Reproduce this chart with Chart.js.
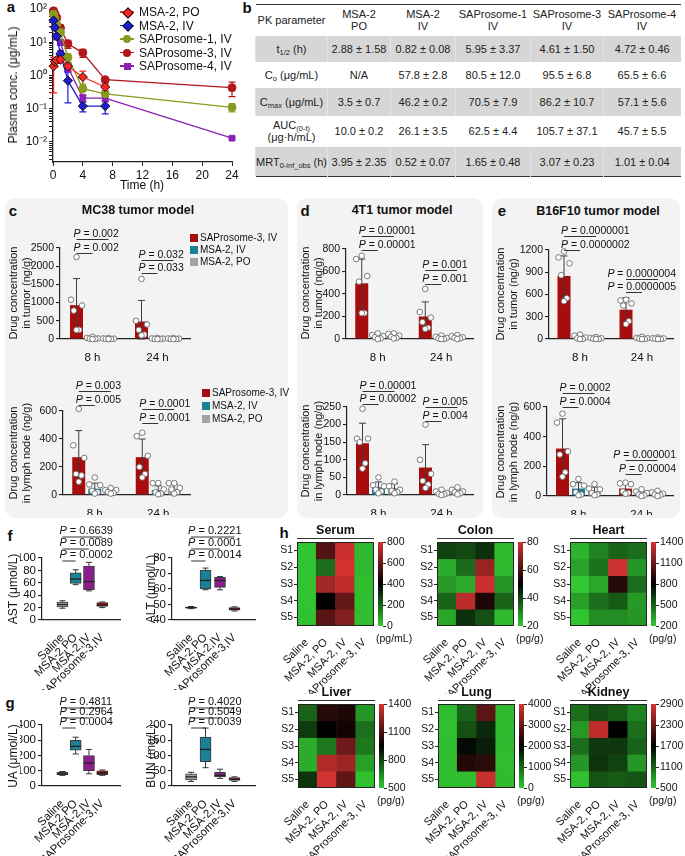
<!DOCTYPE html>
<html>
<head>
<meta charset="utf-8">
<title>SAProsome PK and biodistribution</title>
<script src="https://cdn.jsdelivr.net/npm/chart.js@4.4.1/dist/chart.umd.min.js"></script>
<style>
  html, body { margin: 0; padding: 0; background: #fff; }
  body { position: relative; width: 685px; height: 856px; overflow: hidden;
         font-family: 'Liberation Sans', Arial, Helvetica, sans-serif; color: #111; }
  .t { position: absolute; white-space: nowrap; line-height: 1; }
  canvas { position: absolute; }
  table.pk { position: absolute; left: 255px; top: 4px; width: 425px; border-collapse: collapse;
             table-layout: fixed; font-size: 11px; color: #222;
             border-top: 1.5px solid #333; border-bottom: 1.5px solid #333; }
  table.pk td { text-align: center; padding: 0; line-height: 12px; }
  table.pk tr.g td { background: #d6d6d6; border-left: 1px solid #e4e4e4; }
  table.pk tr.auc td { border-bottom: 1px solid #cfcfcf; }
  table.pk sub { font-size: 7.5px; line-height: 0; vertical-align: -2px; }
</style>
</head>
<body>

<table class="pk">
  <colgroup><col style="width:72px"><col style="width:63px"><col style="width:65px"><col style="width:75px"><col style="width:73px"><col style="width:77px"></colgroup>
  <tr style="height:31px"><td>PK parameter</td><td>MSA-2<br>PO</td><td>MSA-2<br>IV</td><td>SAProsome-1<br>IV</td><td>SAProsome-3<br>IV</td><td>SAProsome-4<br>IV</td></tr>
  <tr class="g" style="height:26px"><td>t<sub>1/2</sub> (h)</td><td>2.88 ± 1.58</td><td>0.82 ± 0.08</td><td>5.95 ± 3.37</td><td>4.61 ± 1.50</td><td>4.72 ± 0.46</td></tr>
  <tr style="height:26px"><td>C<sub>o</sub> (μg/mL)</td><td>N/A</td><td>57.8 ± 2.8</td><td>80.5 ± 12.0</td><td>95.5 ± 6.8</td><td>65.5 ± 6.6</td></tr>
  <tr class="g" style="height:28px"><td>C<sub>max</sub> (μg/mL)</td><td>3.5 ± 0.7</td><td>46.2 ± 0.2</td><td>70.5 ± 7.9</td><td>86.2 ± 10.7</td><td>57.1 ± 5.6</td></tr>
  <tr class="auc" style="height:32px"><td>AUC<sub>(0-t)</sub><br>(μg·h/mL)</td><td>10.0 ± 0.2</td><td>26.1 ± 3.5</td><td>62.5 ± 4.4</td><td>105.7 ± 37.1</td><td>45.7 ± 5.5</td></tr>
  <tr class="g" style="height:29px"><td>MRT<sub>0-inf_obs</sub> (h)</td><td>3.95 ± 2.35</td><td>0.52 ± 0.07</td><td>1.65 ± 0.48</td><td>3.07 ± 0.23</td><td>1.01 ± 0.04</td></tr>
</table>

<script>
// ---------- panel a : plasma concentration ----------
const pkTimes = [0.083, 0.25, 0.5, 1, 2, 4, 7, 24];
const pkSeries = ['MSA-2, PO', 'MSA-2, IV', 'SAProsome-1, IV', 'SAProsome-3, IV', 'SAProsome-4, IV'];
const msa2PoMean = [1.9, 2.6, 2.9, 3.0, 1.9, 0.9, 0.45, null];
const msa2PoSd   = [1.6, 0.8, 0.6, 0.5, 0.5, 0.45, 0.1, null];
const msa2IvMean = [45, 28, 15, 4.5, 0.7, 0.12, 0.12, null];
const msa2IvSd   = [5, 5, 3, 1, 0.55, 0.04, 0.05, null];
const sap1Mean   = [70, 52, 35, 20, 3.5, 0.4, 0.28, 0.11];
const sap1Sd     = [10, 8, 6, 4, 1, 0.15, 0.05, 0.03];
const sap3Mean   = [88, 72, 55, 27, 9, 4.8, 0.75, 0.43];
const sap3Sd     = [15, 10, 8, 6, 2.5, 1.3, 0.12, 0.2];
const sap4Mean   = [50, 30, 15, 10, 1.8, 0.21, 0.21, 0.013];
const sap4Sd     = [8, 5, 3, 2, 0.5, 0.05, 0.05, 0.001];

// ---------- panels c-e : drug in tumor / lymph node ----------
const timeCats = ['8 h', '24 h'];
const grpNames = ['SAProsome-3, IV', 'MSA-2, IV', 'MSA-2, PO'];
// order of groups: SAProsome-3 IV, MSA-2 IV, MSA-2 PO ; each [8 h, 24 h]
const mc38TumorMean = [[930, 480], [20, 10], [10, 8]];
const mc38TumorSd   = [[730, 580], [20, 10], [8, 8]];
const mc38TumorPts  = [[[2250, 1080, 920, 780, 250, 250], [1650, 500, 400, 250, 120, 100]],
                       [[60, 30, 15, 10, 5, 0], [30, 15, 10, 5, 0, 0]],
                       [[25, 15, 10, 5, 0, 0], [25, 15, 10, 5, 0, 0]]];
const mc38LymphMean = [[270, 270], [45, 35], [25, 45]];
const mc38LymphSd   = [[190, 130], [40, 30], [15, 30]];
const mc38LymphPts  = [[[615, 355, 265, 150, 140, 95], [445, 420, 280, 200, 150, 125]],
                       [[125, 75, 70, 30, 20, 10], [85, 85, 40, 20, 10, 5]],
                       [[50, 35, 35, 20, 15, 10], [85, 85, 50, 40, 20, 10]]];
const t4t1TumorMean = [[495, 200], [20, 12], [28, 15]];
const t4t1TumorSd   = [[215, 130], [15, 10], [18, 12]];
const t4t1TumorPts  = [[[740, 710, 560, 510, 230, 230], [445, 240, 190, 150, 100, 90]],
                       [[50, 35, 25, 15, 5, 0], [30, 20, 10, 5, 0, 0]],
                       [[50, 45, 30, 20, 10, 5], [35, 25, 15, 10, 5, 0]]];
const t4t1LymphMean = [[147, 78], [22, 6], [20, 10]];
const t4t1LymphSd   = [[57, 65], [15, 5], [12, 7]];
const t4t1LymphPts  = [[[245, 160, 160, 150, 90, 75], [200, 100, 60, 40, 30, 20]],
                       [[50, 28, 25, 15, 10, 5], [15, 10, 5, 3, 2, 0]],
                       [[38, 25, 15, 12, 8, 5], [22, 15, 10, 8, 5, 2]]];
const b16TumorMean = [[850, 395], [20, 10], [10, 8]];
const b16TumorSd   = [[270, 160], [20, 8], [8, 6]];
const b16TumorPts  = [[[1180, 1100, 1020, 860, 550, 510], [530, 520, 480, 450, 240, 200]],
                      [[60, 45, 20, 10, 0, 0], [30, 15, 10, 5, 0, 0]],
                      [[25, 15, 10, 5, 0, 0], [20, 10, 8, 5, 0, 0]]];
const b16LymphMean = [[320, 50], [50, 18], [35, 15]];
const b16LymphSd   = [[200, 30], [40, 15], [25, 12]];
const b16LymphPts  = [[[555, 495, 300, 280, 160, 130], [90, 85, 80, 30, 20, 15]],
                      [[115, 80, 70, 25, 10, 5], [45, 30, 20, 10, 5, 0]],
                      [[80, 50, 45, 20, 10, 5], [35, 25, 15, 10, 5, 0]]];

// ---------- panels f, g : serum biochemistry (box plots) ----------
const bioCats = ['Saline', 'MSA-2,PO', 'MSA-2,IV', 'SAProsome-3,IV'];
const astMin = [19, 57, 47, 20], astQ1 = [21, 59, 49, 22], astMed = [25, 66, 62, 24], astQ3 = [29, 76, 87, 28], astMax = [31, 81, 93, 29];
const altMin = [47.3, 59.5, 59.5, 45.8], altQ1 = [47.6, 60, 61, 46.3], altMed = [48, 65.5, 65.5, 47], altQ3 = [48.4, 72, 67.5, 48], altMax = [48.7, 73.5, 68, 48.5];
const uaMin = [70, 210, 80, 70], uaQ1 = [75, 235, 100, 75], uaMed = [80, 260, 150, 85], uaQ3 = [90, 300, 200, 100], uaMax = [95, 320, 240, 105];
const bunMin = [15, 60, 25, 15], bunQ1 = [20, 80, 30, 18], bunMed = [30, 120, 35, 22], bunQ3 = [40, 160, 45, 28], bunMax = [45, 190, 55, 30];

// ---------- panel h : cytokine heat maps (rows S1..S5, cols as heatCols) ----------
const heatCols = ['Saline', 'MSA-2, PO', 'MSA-2, IV', 'SAProsome-3, IV'];
const heatRows = ['S1', 'S2', 'S3', 'S4', 'S5'];
const serumVals  = [[5, 550, 775, 30], [10, 180, 800, 30], [10, 700, 755, 25], [10, 400, 585, 20], [15, 560, 640, 20]];
const colonVals  = [[40, 39, 43, 22], [24, 34, 71, 22], [27, 24, 78, 28], [35, 76, 54, 35], [25, 43, 38, 22]];
const heartVals  = [[260, 410, 500, 470], [310, 460, 1370, 350], [200, 300, 910, 470], [320, 470, 530, 340], [210, 380, 380, 350]];
const liverVals  = [[725, 1030, 1010, 610], [815, 950, 990, 700], [560, 680, 1180, 680], [560, 1320, 1280, 590], [830, 1390, 1150, 515]];
const lungVals   = [[100, 1000, 2850, 150], [80, 1200, 1600, 150], [100, 1900, 1700, 150], [100, 2330, 2400, 120], [100, 100, 3850, 140]];
const kidneyVals = [[1040, 1250, 1160, 920], [790, 2760, 1700, 1040], [1040, 1370, 1370, 1110], [800, 1400, 1310, 800], [550, 1200, 1160, 1200]];
const serumTicks = [0, 200, 400, 600, 800];
const colonTicks = [20, 40, 60, 80];
const heartTicks = [200, 500, 800, 1100, 1400];
const liverTicks = [500, 800, 1100, 1400];
const lungTicks  = [0, 1000, 2000, 3000, 4000];
const kidneyTicks = [500, 1100, 1700, 2300, 2900];

// ================= drawing =================
const FF = "'Liberation Sans', Arial, Helvetica, sans-serif";
Chart.defaults.font.family = FF;
Chart.defaults.color = '#111';
Chart.defaults.animation = false;
Chart.defaults.events = [];
Chart.defaults.plugins.legend.display = false;
Chart.defaults.plugins.tooltip.enabled = false;

const AX = '#222';
const RED = '#a80d0d', TEAL = '#1b8196', GREY = '#a3a3a3', PURP = '#8c1d8c';
const grpColors = [RED, TEAL, GREY];
const EXTRA = {};
const plain = v => String(v);

function txt(html, x, y, css, anchor) {
  const d = document.createElement('div');
  d.className = 't';
  d.innerHTML = html;
  d.style.left = x + 'px';
  d.style.top = y + 'px';
  if (css) d.style.cssText += css;
  d.style.transform = anchor === 'c' ? 'translate(-50%,-50%)' : anchor === 'r' ? 'translate(-100%,-50%)' : 'translate(0,-50%)';
  document.body.appendChild(d);
  return d;
}
function vtxt(html, x, y, css) {
  const d = txt(html, x, y, css + ';text-align:center', 'c');
  d.style.transform = 'translate(-50%,-50%) rotate(-90deg)';
  return d;
}
function rect(x, y, w, h, css) {
  const d = document.createElement('div');
  d.style.cssText = `position:absolute;left:${x}px;top:${y}px;width:${w}px;height:${h}px;` + css;
  document.body.appendChild(d);
  return d;
}

// place a chart so that its chart area lands on the given page rectangle
function mk(id, box, area, cfg, yRight) {
  const cv = document.createElement('canvas');
  cv.id = id; cv.width = box.w; cv.height = box.h;
  cv.style.left = box.l + 'px'; cv.style.top = box.t + 'px';
  cv.style.width = box.w + 'px'; cv.style.height = box.h + 'px';
  document.body.appendChild(cv);
  const o = cfg.options;
  o.responsive = false; o.maintainAspectRatio = false; o.devicePixelRatio = 1;
  const xHidden = o.scales.x.display === false;
  const bottomGap = box.t + box.h - area.b;
  o.layout = { padding: {
    left: yRight ? area.l - box.l : 0,
    right: yRight ? 0 : box.l + box.w - area.r,
    top: area.t - box.t,
    bottom: xHidden ? bottomGap : 0 } };
  const yW = yRight ? box.l + box.w - area.r : area.l - box.l;
  o.scales.y.afterFit = s => { s.width = yW; s.paddingTop = 0; s.paddingBottom = 0; };
  if (!xHidden) o.scales.x.afterFit = s => { s.height = bottomGap; s.paddingLeft = 0; s.paddingRight = 0; };
  if (EXTRA[id]) EXTRA[id].top = box.t;
  return new Chart(cv, cfg);
}

function axisY(min, max, step, size) {
  return { min, max, ticks: { stepSize: step, font: { size }, color: '#111', padding: 2, callback: plain, autoSkip: false },
    grid: { drawOnChartArea: false, tickLength: 4, color: AX, lineWidth: 1.1 },
    border: { color: AX, width: 1.2 } };
}

function drawP(ctx, text, x0, xEnd, y, size, mode, maxRight) {
  ctx.font = `italic ${size}px ${FF}`;
  const wP = ctx.measureText('P').width;
  ctx.font = `${size}px ${FF}`;
  const rest = ' = ' + text;
  const w = wP + ctx.measureText(rest).width;
  let tx = mode === 'box' ? Math.max(x0 - 3, xEnd - w) : x0 - 3;
  if (tx + w > maxRight) tx = maxRight - w;
  ctx.fillStyle = '#111';
  ctx.textBaseline = 'middle';
  ctx.textAlign = 'left';
  ctx.font = `italic ${size}px ${FF}`;
  ctx.fillText('P', tx, y);
  ctx.font = `${size}px ${FF}`;
  ctx.fillText(rest, tx + wP, y);
}

const extrasPlugin = {
  id: 'extras',
  beforeDatasetsDraw(chart) {
    const ex = EXTRA[chart.canvas.id];
    if (!ex) return;
    const ctx = chart.ctx, a = chart.chartArea;
    if (ex.kind === 'cbar') {
      const g = ctx.createLinearGradient(0, a.bottom, 0, a.top);
      g.addColorStop(0, 'rgb(50,200,50)'); g.addColorStop(0.5, '#000'); g.addColorStop(1, 'rgb(215,50,50)');
      ctx.fillStyle = g;
      ctx.fillRect(a.left, a.top, a.right - a.left, a.bottom - a.top);
    }
    if (ex.kind === 'pk') {
      const ys = chart.scales.y;
      ctx.save();
      chart.data.datasets.forEach((ds, k) => {
        const meta = chart.getDatasetMeta(k);
        ctx.strokeStyle = ds.borderColor; ctx.lineWidth = 1.2;
        ds.data.forEach((p, i) => {
          const sd = ex.sd[k][i];
          if (sd == null) return;
          const el = meta.data[i];
          const t = ys.getPixelForValue(p.y + sd);
          const lo = p.y - sd;
          const b = lo > 0 ? Math.min(ys.getPixelForValue(lo), a.bottom) : a.bottom;
          ctx.beginPath();
          ctx.moveTo(el.x, t); ctx.lineTo(el.x, b);
          ctx.moveTo(el.x - 3.5, t); ctx.lineTo(el.x + 3.5, t);
          ctx.moveTo(el.x - 3.5, b); ctx.lineTo(el.x + 3.5, b);
          ctx.stroke();
        });
      });
      ctx.restore();
    }
  },
  afterDatasetsDraw(chart) {
    const ex = EXTRA[chart.canvas.id];
    if (!ex) return;
    const ctx = chart.ctx, a = chart.chartArea, ys = chart.scales.y;
    ctx.save();
    if (ex.kind === 'bars') {
      ex.sd.forEach((sds, di) => {
        const meta = chart.getDatasetMeta(di);
        sds.forEach((sd, i) => {
          const el = meta.data[i], m = chart.data.datasets[di].data[i];
          const t = ys.getPixelForValue(m + sd), b = ys.getPixelForValue(Math.max(m - sd, 0));
          ctx.strokeStyle = '#3c3c3c'; ctx.lineWidth = 1;
          ctx.beginPath();
          ctx.moveTo(el.x, t); ctx.lineTo(el.x, b);
          ctx.moveTo(el.x - 3.5, t); ctx.lineTo(el.x + 3.5, t);
          ctx.moveTo(el.x - 3.5, b); ctx.lineTo(el.x + 3.5, b);
          ctx.stroke();
        });
      });
      const jit = [0, -5.5, 5.5, -2.75, 2.75, 0];
      ex.pts.forEach((groups, di) => {
        const meta = chart.getDatasetMeta(di);
        groups.forEach((vals, i) => {
          const el = meta.data[i];
          vals.forEach((v, k) => {
            ctx.beginPath();
            ctx.arc(el.x + jit[k % jit.length], ys.getPixelForValue(v), 2.8, 0, Math.PI * 2);
            ctx.fillStyle = '#fff'; ctx.fill();
            ctx.strokeStyle = '#6a6a6a'; ctx.lineWidth = 0.9; ctx.stroke();
          });
        });
      });
      ex.pv.forEach(p => {
        const e0 = chart.getDatasetMeta(0).data[p.cat], e1 = chart.getDatasetMeta(p.b).data[p.cat];
        const y = p.y - ex.top;
        ctx.strokeStyle = '#333'; ctx.lineWidth = 1;
        ctx.beginPath(); ctx.moveTo(e0.x, y + 5.5); ctx.lineTo(e1.x, y + 5.5); ctx.stroke();
        drawP(ctx, p.text, e0.x, e1.x, y, 10.5, 'bar', chart.width - 2);
      });
    }
    if (ex.kind === 'box') {
      const meta = chart.getDatasetMeta(0);
      meta.data.forEach((el, i) => {
        const h = el.width / 2;
        const pMin = ys.getPixelForValue(ex.min[i]), pQ1 = ys.getPixelForValue(ex.q1[i]);
        const pMed = ys.getPixelForValue(ex.med[i]), pQ3 = ys.getPixelForValue(ex.q3[i]);
        const pMax = ys.getPixelForValue(ex.max[i]);
        ctx.strokeStyle = '#333'; ctx.lineWidth = 1;
        ctx.beginPath();
        ctx.moveTo(el.x, pQ3); ctx.lineTo(el.x, pMax);
        ctx.moveTo(el.x - h * 0.55, pMax); ctx.lineTo(el.x + h * 0.55, pMax);
        ctx.moveTo(el.x, pQ1); ctx.lineTo(el.x, pMin);
        ctx.moveTo(el.x - h * 0.55, pMin); ctx.lineTo(el.x + h * 0.55, pMin);
        ctx.stroke();
        ctx.lineWidth = 1.3; ctx.strokeStyle = '#222';
        ctx.beginPath(); ctx.moveTo(el.x - h, pMed); ctx.lineTo(el.x + h, pMed); ctx.stroke();
      });
      ex.pv.forEach(p => {
        const e0 = meta.data[0], e1 = meta.data[p.b];
        const y = p.y - ex.top;
        ctx.strokeStyle = '#333'; ctx.lineWidth = 1;
        ctx.beginPath(); ctx.moveTo(e0.x, y + 6); ctx.lineTo(e1.x, y + 6); ctx.stroke();
        drawP(ctx, p.text, e0.x, e1.x, y, 11, 'box', chart.width - 1);
      });
    }
    if (ex.kind === 'heat') {
      ctx.strokeStyle = '#222'; ctx.lineWidth = 1;
      ctx.strokeRect(a.left + 0.5, a.top + 0.5, a.right - a.left - 1, a.bottom - a.top - 1);
    }
    ctx.restore();
  }
};
Chart.register(extrasPlugin);

// ---------------- backgrounds & letters ----------------
rect(5, 198, 283, 320, 'background:#f3f3f3;border-radius:10px');
rect(297, 198, 186, 320, 'background:#f3f3f3;border-radius:10px');
rect(492, 198, 188, 320, 'background:#f3f3f3;border-radius:10px');

const L = 'font-weight:bold;font-size:15px';
txt('a', 11, 6, L, 'c');
txt('b', 247, 7, L, 'c');
txt('c', 13, 210, L, 'c');
txt('d', 305, 210, L, 'c');
txt('e', 502, 210, L, 'c');
txt('f', 10, 535, L, 'c');
txt('g', 10, 702, L, 'c');
txt('h', 284, 532, L, 'c');

// ---------------- panel a ----------------
const pkMeans = [msa2PoMean, msa2IvMean, sap1Mean, sap3Mean, sap4Mean];
const pkSds = [msa2PoSd, msa2IvSd, sap1Sd, sap3Sd, sap4Sd];
const pkColors = ['#ff2424', '#1d1dd8', '#8a9a1e', '#b0181c', '#8a20b5'];
const pkShapes = ['rectRot', 'rectRot', 'circle', 'circle', 'rect'];
const SUP = { '-': '⁻', '0': '⁰', '1': '¹', '2': '²', '3': '³' };
EXTRA.pk = { kind: 'pk', sd: pkSds };
mk('pk', { l: 0, t: 0, w: 240, h: 195 }, { l: 53, t: 9, r: 232, b: 162 }, {
  type: 'line',
  data: {
    datasets: pkSeries.map((name, k) => ({
      label: name,
      data: pkTimes.map((t, i) => ({ x: t, y: pkMeans[k][i] })).filter(p => p.y != null),
      borderColor: pkColors[k], backgroundColor: pkColors[k], borderWidth: 1.3,
      pointStyle: pkShapes[k], pointRadius: pkShapes[k] === 'rectRot' ? 4.6 : 4,
      pointBorderColor: pkShapes[k] === 'rectRot' ? '#111' : pkColors[k], pointBorderWidth: 1, tension: 0
    }))
  },
  options: {
    clip: false,
    scales: {
      x: { type: 'linear', min: 0, max: 24, ticks: { stepSize: 4, font: { size: 12 }, padding: 2, color: '#111' },
           grid: { drawOnChartArea: false, tickLength: 4, color: AX }, border: { color: AX, width: 1.3 } },
      y: { type: 'logarithmic', min: 0.0025, max: 100,
           afterBuildTicks: s => {
             const t = [];
             for (let e = -3; e <= 2; e++) for (let m = 1; m < 10; m++) {
               const v = m * Math.pow(10, e);
               if (v >= 0.0025 && v <= 100.0001) t.push({ value: v });
             }
             s.ticks = t;
           },
           ticks: { font: { size: 12 }, padding: 2, color: '#111', autoSkip: false,
             callback: v => {
               const e = Math.round(Math.log10(v));
               if (Math.abs(Math.log10(v) - e) > 1e-6) return '';
               return '10' + String(e).split('').map(c => SUP[c]).join('');
             } },
           grid: { drawOnChartArea: false, tickLength: 4, color: AX }, border: { color: AX, width: 1.3 } }
    }
  }
});
vtxt('Plasma conc. (μg/mL)', 13, 85, 'font-size:12px');
txt('Time (h)', 142, 185, 'font-size:12px', 'c');
const pkLegendY = [12, 25.5, 39, 52.5, 66];
pkSeries.forEach((name, k) => {
  const y = pkLegendY[k];
  rect(120, y - 0.6, 14, 1.3, `background:${pkColors[k]}`);
  if (pkShapes[k] === 'rectRot') rect(123.5, y - 3.5, 6, 6, `background:${pkColors[k]};border:1px solid #111;transform:rotate(45deg)`);
  else if (pkShapes[k] === 'circle') rect(123, y - 4, 8, 8, `background:${pkColors[k]};border-radius:50%`);
  else rect(123.5, y - 3.5, 7, 7, `background:${pkColors[k]}`);
  txt(name, 139, y, 'font-size:12px');
});

// ---------------- panels c, d, e ----------------
function barPanel(id, box, area, yMax, yStep, means, sds, pts, pv) {
  const catW = (area.r - area.l) / 2;
  const cp = Math.min(1, 3 * 16 / catW);
  EXTRA[id] = { kind: 'bars', sd: sds, pts: pts, pv: pv };
  return mk(id, box, area, {
    type: 'bar',
    data: { labels: timeCats, datasets: means.map((m, k) => ({
      label: grpNames[k], data: m, backgroundColor: grpColors[k], borderWidth: 0,
      categoryPercentage: cp, barPercentage: 13 / 16 })) },
    options: { scales: {
      x: { grid: { display: false }, border: { color: AX, width: 1.2 }, ticks: { font: { size: 11.5 }, padding: 4, color: '#111' } },
      y: axisY(0, yMax, yStep, 10.5) } }
  });
}
barPanel('cT', { l: 25, t: 222, w: 180, h: 140 }, { l: 60, t: 248, r: 190, b: 339 }, 2500, 500,
  mc38TumorMean, mc38TumorSd, mc38TumorPts,
  [{ cat: 0, b: 2, y: 234, text: '0.002' }, { cat: 0, b: 1, y: 248, text: '0.002' },
   { cat: 1, b: 2, y: 255, text: '0.032' }, { cat: 1, b: 1, y: 268, text: '0.033' }]);
barPanel('cL', { l: 25, t: 375, w: 180, h: 140 }, { l: 63, t: 411, r: 190, b: 495 }, 600, 200,
  mc38LymphMean, mc38LymphSd, mc38LymphPts,
  [{ cat: 0, b: 2, y: 386, text: '0.003' }, { cat: 0, b: 1, y: 400, text: '0.005' },
   { cat: 1, b: 2, y: 404, text: '0.0001' }, { cat: 1, b: 1, y: 418, text: '0.0001' }]);
barPanel('dT', { l: 315, t: 222, w: 165, h: 140 }, { l: 346, t: 249, r: 473, b: 339 }, 800, 200,
  t4t1TumorMean, t4t1TumorSd, t4t1TumorPts,
  [{ cat: 0, b: 2, y: 231, text: '0.00001' }, { cat: 0, b: 1, y: 245, text: '0.00001' },
   { cat: 1, b: 2, y: 265, text: '0.001' }, { cat: 1, b: 1, y: 279, text: '0.001' }]);
barPanel('dL', { l: 315, t: 375, w: 165, h: 140 }, { l: 347, t: 407, r: 473, b: 495 }, 250, 50,
  t4t1LymphMean, t4t1LymphSd, t4t1LymphPts,
  [{ cat: 0, b: 2, y: 386, text: '0.00001' }, { cat: 0, b: 1, y: 399, text: '0.00002' },
   { cat: 1, b: 2, y: 402, text: '0.005' }, { cat: 1, b: 1, y: 416, text: '0.004' }]);
barPanel('eT', { l: 515, t: 222, w: 163, h: 140 }, { l: 549, t: 250, r: 673, b: 339 }, 1200, 300,
  b16TumorMean, b16TumorSd, b16TumorPts,
  [{ cat: 0, b: 2, y: 231, text: '0.0000001' }, { cat: 0, b: 1, y: 245, text: '0.0000002' },
   { cat: 1, b: 2, y: 274, text: '0.0000004' }, { cat: 1, b: 1, y: 287, text: '0.0000005' }]);
barPanel('eL', { l: 515, t: 375, w: 163, h: 140 }, { l: 547, t: 407, r: 673, b: 496 }, 600, 200,
  b16LymphMean, b16LymphSd, b16LymphPts,
  [{ cat: 0, b: 2, y: 388, text: '0.0002' }, { cat: 0, b: 1, y: 402, text: '0.0004' },
   { cat: 1, b: 2, y: 455, text: '0.000001' }, { cat: 1, b: 1, y: 469, text: '0.00004' }]);

const PT = 'font-weight:bold;font-size:12.5px';
txt('MC38 tumor model', 138, 210, PT, 'c');
txt('4T1 tumor model', 402, 210, PT, 'c');
txt('B16F10 tumor model', 598, 211, PT, 'c');
const YT = 'font-size:11px;line-height:13px';
vtxt('Drug concentration<br>in tumor (ng/g)', 19.5, 293, YT);
vtxt('Drug concentration<br>in lymph node (ng/g)', 19.5, 453, YT);
vtxt('Drug concentration<br>in tumor (ng/g)', 311.5, 293, YT);
vtxt('Drug concentration<br>in lymph node (ng/g)', 311.5, 451, YT);
vtxt('Drug concentration<br>in tumor (ng/g)', 507, 294, YT);
vtxt('Drug concentration<br>in lymph node (ng/g)', 507, 452, YT);
function barLegend(x, ys) {
  grpNames.forEach((n, k) => {
    rect(x, ys[k] - 4, 8, 8, `background:${grpColors[k]}`);
    txt(n, x + 10, ys[k], 'font-size:10px');
  });
}
barLegend(190, [238, 250, 262]);
barLegend(202, [393, 406, 419]);

// ---------------- panels f, g ----------------
function boxPanel(id, box, area, yMin, yMax, step, mins, q1, med, q3, maxs, pv, xr) {
  EXTRA[id] = { kind: 'box', min: mins, q1, med, q3, max: maxs, pv };
  return mk(id, box, area, {
    type: 'bar',
    data: { datasets: [{ data: bioCats.map((c, i) => ({ x: i + 1, y: [q1[i], q3[i]] })),
      backgroundColor: [GREY, TEAL, PURP, RED], borderColor: '#3a3a3a', borderWidth: 1,
      borderSkipped: false, barThickness: 11 }] },
    options: { scales: {
      x: { type: 'linear', min: xr[0], max: xr[1],
           afterBuildTicks: s => { s.ticks = bioCats.map((c, i) => ({ value: i + 1 })); },
           ticks: { callback: (v, i) => bioCats[i], minRotation: 45, maxRotation: 45, autoSkip: false,
                    font: { size: 11.5 }, padding: 3, color: '#111' },
           grid: { display: false }, border: { color: AX, width: 1.2 } },
      y: axisY(yMin, yMax, step, 11.5) } }
  });
}
boxPanel('fA', { l: 20, t: 522, w: 108, h: 168 }, { l: 42, t: 558, r: 120, b: 620 }, 0, 100, 20,
  astMin, astQ1, astMed, astQ3, astMax,
  [{ b: 3, y: 531, text: '0.6639' }, { b: 2, y: 543, text: '0.0089' }, { b: 1, y: 555, text: '0.0002' }], [0.2, 4.6]);
boxPanel('fL', { l: 150, t: 522, w: 110, h: 168 }, { l: 172, t: 558, r: 255, b: 620 }, 40, 80, 10,
  altMin, altQ1, altMed, altQ3, altMax,
  [{ b: 3, y: 531, text: '0.2221' }, { b: 2, y: 543, text: '0.0001' }, { b: 1, y: 555, text: '0.0014' }], [0.4, 4.7]);
boxPanel('gU', { l: 20, t: 692, w: 108, h: 164 }, { l: 42, t: 725, r: 120, b: 786 }, 0, 400, 100,
  uaMin, uaQ1, uaMed, uaQ3, uaMax,
  [{ b: 3, y: 702, text: '0.4811' }, { b: 2, y: 712, text: '0.2964' }, { b: 1, y: 722, text: '0.0004' }], [0.2, 4.6]);
boxPanel('gB', { l: 150, t: 692, w: 110, h: 164 }, { l: 172, t: 725, r: 255, b: 786 }, 0, 200, 50,
  bunMin, bunQ1, bunMed, bunQ3, bunMax,
  [{ b: 3, y: 702, text: '0.4020' }, { b: 2, y: 712, text: '0.5049' }, { b: 1, y: 722, text: '0.0039' }], [0.4, 4.7]);
vtxt('AST (μmol/L)', 13, 589, 'font-size:12px');
vtxt('ALT (μmol/L)', 151, 589, 'font-size:12px');
vtxt('UA (μmol/L)', 13, 756, 'font-size:12px');
vtxt('BUN (mg/L)', 151, 756, 'font-size:12px');

// ---------------- panel h ----------------
function heatColor(v, lo, hi) {
  let t = (v - lo) / (hi - lo);
  t = Math.max(0, Math.min(1, t));
  if (t < 0.5) { const k = 1 - t / 0.5; return `rgb(${Math.round(50 * k)},${Math.round(200 * k)},${Math.round(50 * k)})`; }
  const k = (t - 0.5) / 0.5;
  return `rgb(${Math.round(215 * k)},${Math.round(50 * k)},${Math.round(50 * k)})`;
}
function heatPanel(id, name, area, vals, ticks, unit) {
  const lo = ticks[0], hi = ticks[ticks.length - 1];
  EXTRA[id] = { kind: 'heat' };
  mk(id, { l: area.l - 27, t: area.t - 2, w: area.r - area.l + 29, h: area.b - area.t + 70 }, area, {
    type: 'bar',
    data: { labels: heatCols, datasets: vals.map((row, r) => ({
      label: heatRows[r], data: row.map(() => 1),
      backgroundColor: row.map(v => heatColor(v, lo, hi)), borderWidth: 0,
      barPercentage: 1, categoryPercentage: 1 })) },
    options: { scales: {
      x: { stacked: true, grid: { display: false }, border: { display: false },
           ticks: { minRotation: 45, maxRotation: 45, autoSkip: false, font: { size: 11 }, padding: 2, color: '#111' } },
      y: { stacked: true, reverse: true, min: 0, max: 5,
           afterBuildTicks: s => { s.ticks = heatRows.map((r, i) => ({ value: i + 0.5 })); },
           ticks: { callback: (v, i) => heatRows[i], font: { size: 10.5 }, padding: 1, color: '#111', autoSkip: false },
           grid: { drawOnChartArea: false, tickLength: 3, color: AX }, border: { display: false } } } }
  });
  const cb = { l: area.r + 4, r: area.r + 9, t: area.t, b: area.b };
  EXTRA[id + 'cb'] = { kind: 'cbar' };
  mk(id + 'cb', { l: cb.l, t: cb.t - 8, w: 42, h: cb.b - cb.t + 16 }, cb, {
    type: 'bar',
    data: { labels: [''], datasets: [] },
    options: { scales: {
      x: { display: false },
      y: { position: 'right', min: lo, max: hi,
           afterBuildTicks: s => { s.ticks = ticks.map(v => ({ value: v })); },
           ticks: { font: { size: 10.5 }, padding: 1, color: '#111', callback: plain, autoSkip: false },
           grid: { drawOnChartArea: false, tickLength: 3, color: AX }, border: { display: false } } } }
  }, true);
  txt(name, (area.l + area.r) / 2, area.t - 12, 'font-weight:bold;font-size:12.5px', 'c');
  rect(area.l, area.t - 4, area.r - area.l, 1.3, 'background:#333');
  txt(unit, area.r + 2, area.b + 12, 'font-size:10.5px');
}
heatPanel('hSerum', 'Serum', { l: 297, r: 374, t: 542, b: 626 }, serumVals, serumTicks, '(pg/mL)');
heatPanel('hColon', 'Colon', { l: 437, r: 514, t: 542, b: 626 }, colonVals, colonTicks, '(pg/g)');
heatPanel('hHeart', 'Heart', { l: 570, r: 647, t: 542, b: 626 }, heartVals, heartTicks, '(pg/g)');
heatPanel('hLiver', 'Liver', { l: 298, r: 375, t: 704, b: 788 }, liverVals, liverTicks, '(pg/g)');
heatPanel('hLung', 'Lung', { l: 438, r: 515, t: 704, b: 788 }, lungVals, lungTicks, '(pg/g)');
heatPanel('hKidney', 'Kidney', { l: 570, r: 647, t: 704, b: 788 }, kidneyVals, kidneyTicks, '(pg/g)');
</script>
</body>
</html>
